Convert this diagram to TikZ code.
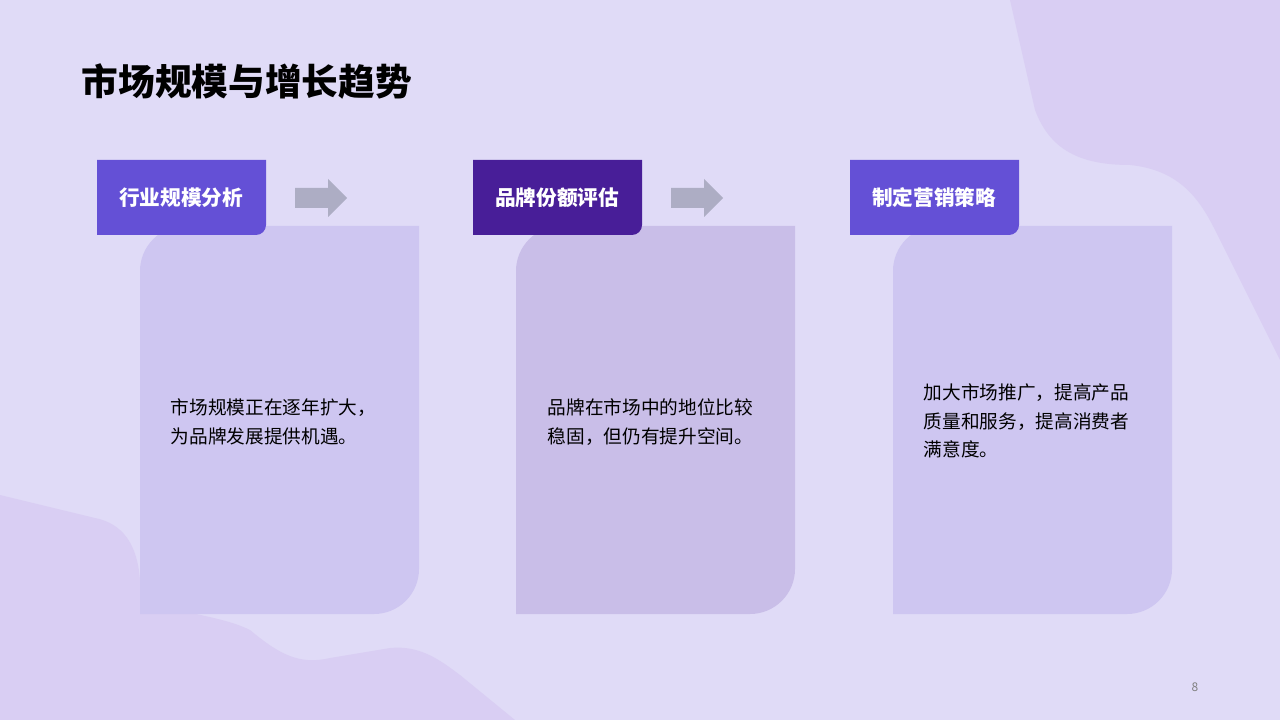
\documentclass[tikz,border=0pt]{standalone}
\usepackage{fontspec}
\newfontfamily\cjk{Noto Sans CJK SC}
\definecolor{bgc}{HTML}{E0DBF7}
\definecolor{blobc}{HTML}{D9CEF3}
\definecolor{cardc}{HTML}{CEC6F1}
\definecolor{carddk}{HTML}{C9BEE8}
\definecolor{labc}{HTML}{6450D6}
\definecolor{labdk}{HTML}{481E98}
\definecolor{arrc}{HTML}{ADADC4}
\tikzset{
  card/.style={fill=cardc, draw=none},
  labbox/.style={fill=labc, draw=none},
  labtext/.style={text=white, font=\cjk\bfseries\fontsize{15.5}{17}\selectfont},
  bodytext/.style={anchor=north west, align=left, text=black, font=\cjk\fontsize{14}{21.5}\selectfont},
  flow/.style={fill=arrc, draw=none}
}
\begin{document}
\begin{tikzpicture}[x=0.75pt, y=-0.75pt]
\fill[bgc] (0,0) rectangle (1280,720);
\useasboundingbox (0,0) rectangle (1280,720);
% background blobs
\fill[blobc] (1010,0) -- (1035,110) .. controls (1050,150) and (1080,165) .. (1130,165)
  .. controls (1180,170) and (1200,200) .. (1215,230) -- (1280,360) -- (1280,0) -- cycle;
\fill[blobc] (0,495) -- (95,518) .. controls (130,525) and (138,555) .. (140,580)
  .. controls (145,615) and (210,610) .. (250,630) .. controls (280,655) and (300,665) .. (330,658)
  -- (390,648) .. controls (420,645) and (440,660) .. (460,675) -- (515,720) -- (0,720) -- cycle;
% title
\node[anchor=west, font=\cjk\bfseries\fontsize{27.5}{30}\selectfont] (title) at (77,82) {市场规模与增长趋势};
% cards
\foreach \x/\c/\n in {140/cardc/1, 516/carddk/2, 893/cardc/3}{
  \fill[\c] (\x+279,226) -- (\x+279,569)
    arc[start angle=0, end angle=90, radius=45] -- (\x,614) -- (\x,271)
    arc[start angle=180, end angle=270, radius=45] -- cycle;
}
% labels
\foreach \x/\c/\n/\t in {97/labc/1/行业规模分析, 473/labdk/2/品牌份额评估, 850/labc/3/制定营销策略}{
  \fill[\c] (\x,160) -- (\x+169,160) -- (\x+169,225) arc[start angle=0, end angle=90, radius=10] -- (\x,235) -- cycle;
  \node[labtext] (lab\n) at (\x+84,198) {\t};
}
% arrows
\foreach \x/\n in {295/1, 671/2}{
  \fill[flow] (\x,188) -- (\x+33,188) -- (\x+33,179) -- (\x+52,198) -- (\x+33,217) -- (\x+33,208) -- (\x,208) -- cycle;
}
% body texts
\node[bodytext] (t1) at (166,394) {市场规模正在逐年扩大，\\为品牌发展提供机遇。};
\node[bodytext] (t2) at (543,394) {品牌在市场中的地位比较\\稳固，但仍有提升空间。};
\node[bodytext] (t3) at (919,379) {加大市场推广，提高产品\\质量和服务，提高消费者\\满意度。};
\node[text=gray, font=\cjk\fontsize{9}{10}\selectfont] (page) at (1195,687) {8};
\end{tikzpicture}
\end{document}
